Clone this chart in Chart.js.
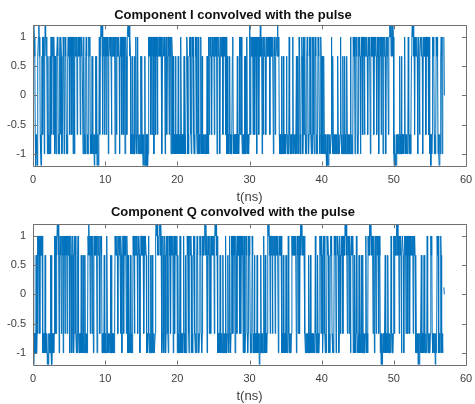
<!DOCTYPE html>
<html>
<head>
<meta charset="utf-8">
<script src="https://cdn.jsdelivr.net/npm/chart.js@4.4.1/dist/chart.umd.min.js"></script>
<style>
  html, body { margin: 0; padding: 0; background: #ffffff; overflow: hidden; }
  #wrap { position: relative; width: 475px; height: 404px; }
  canvas { position: absolute; left: 0; }
  #chartI { top: 0; }
  #chartQ { top: 199px; }
</style>
</head>
<body>
<div id="wrap">
  <canvas id="chartI" width="475" height="206"></canvas>
  <canvas id="chartQ" width="475" height="206"></canvas>
</div>
<script>
// Sampling interval of the shaped baseband signals (ns per sample).
const TIME_STEP_NS = 0.0625;

// Amplitude for each sample code.
// P/p : upper symbol level and its ripple, N/n : lower level and its ripple,
// U/D : overshoots past the plotted range, z/0 : tail samples, x : gap.
const LEVELS = { P: 1, p: 0.67, n: -0.67, N: -1, U: 1.3, D: -1.3, z: 0.12, '0': 0, x: null };

// In-phase component, ten samples per entry.
const I_SAMPLES = [
  "PpUPpnDNnN", "DpPUpPnNDN", "pPnPpNpUPp", "PpNpNnNnpN", "PnPpPnPpNp",
  "nNnpPpNnNp", "PnPpNnnPpN", "nPpPNnNpPp", "PpnPpPnPpN", "PpNPpPpPnp",
  "PpPpPnPpPp", "pNPpNnNpPp", "NnNnPpPnNn", "NpNnNnDnNp", "NpDNnDnPnp",
  "PUPUnPpPnP", "pPnPpPpNpP", "PpPpnPpPpP", "pPNpPnPpPp", "PpNpPpPnPp",
  "PnPpNpPpnP", "PUPUpPpNnN", "NpNnNpNnPn", "NnPnNnNnNp", "NpNnDnNDpD",
  "NnDnDNPpPp", "PnPpnPpPNP", "pPnPpPnPpP", "PpPpPpNpPp", "pPpNpPpnpP",
  "PpnPpPNpPp", "NpNnNnpNnN", "nNpNnNnNPn", "NnNnNpNnNn", "pPpNnNpPpP",
  "nNnPpPnNnN", "PpPnNnPpNn", "NnPnNpNnNn", "NnNnnNpNnN", "PnPpPpnPpP",
  "pPnPpPpPNp", "PpPpNpPpPp", "PnPpPpPnPp", "NpNnNnpNnN", "nNpPnNnNnN",
  "NnNpNnNnPn", "PpPnNnNnNp", "NpNnPnNnNn", "PUnPpPpPnP", "pPnPpPNpPp",
  "PnPpUpPpNp", "PnPpPpnpPp", "PpPpPnPpPp", "pPpNpPpnpP", "PpUPpPnNnN",
  "NpNnNpNnNn", "NnpnNnNnPn", "NnNnNnPnNn", "nNnNpNnpnN", "PpNnNpPpNn",
  "PnPpNnNpPp", "nNnPpPnNnN", "PpPnNpPpNn", "NnPpPnNnPp", "NpNnNpNnNn",
  "NDnDNDnNnN", "NnPnNpNnNn", "NnNnNnpNnN", "NnPnNnNpNn", "NpNnNnpNnN",
  "nNnNPnNnNn", "PpPpNnPpPn", "NnPpPpNnPp", "PnPpPnPpPp", "PpnpPpPpNp",
  "PpPpPpnPpP", "PpnPpPpNpP", "pPnPpPNpPp", "PpNpPpPpnP", "PUPUpPUpUP",
  "NDnDNDnNnN", "NnNpNnNpNn", "NnNnPnNnNn", "NnPnNnNnNp", "PUPUpPnPpP",
  "pPpNpPpnpP", "PpPpNpPpPp", "PnPpPpPnPp", "NnDnNnPpPp", "NnNnPpPpNn",
  "NDnNpPpNnP", "xP0"
];

// Quadrature component, ten samples per entry.
const Q_SAMPLES = [
  "NpDnNnNpNn", "PnPpPnPpPp", "PpNnNnNpNn", "NnDNDnNnNp", "NpDnNnNnPn",
  "PnPpUPUpNp", "PpPnPpPNPp", "PnPpPpnPpP", "PpNpPpNnPp", "NnPpPnNnNp",
  "PnNnNnNpNn", "NpNnNpNnNn", "NnPpUpPnPp", "PnPpNpPpPp", "PpNpPpPpnP",
  "PpPNnNnNpN", "NnNnPnNnNn", "nNpNpNnNnN", "NnPpPpPpnP", "PpPpnPpNpP",
  "PnPpPpPnPp", "NpNnNnpNnN", "NnPpPnPpPp", "PpnPpPpNpP", "PpPpPpnPpP",
  "PpNnNnPnNn", "NpNnpNnNnN", "NnPUPUpPpP", "PUpUPnNnPp", "NnPpNnPpPn",
  "NnPpPnPpPp", "PNpPnPpPpP", "NpNnNnPnNn", "NnNnPnNnpN", "NnPpPnNnPp",
  "PpNnNpPpPn", "NnNpPpNnNn", "PpPnNnPpPp", "PUpUPpNpPp", "PnPpnPpPpP",
  "pPnPUPUpPp", "NnNnNpNnNn", "NpNnNnNPNn", "NnpnNnPnNn", "PpPnPpPpNp",
  "PpnPpPpPnP", "PnPpPpNpPp", "NnPpPnNnPp", "PpNnNnPpNn", "NpNnNnNpNn",
  "NnDnNpNnNn", "NnPnNpNnNn", "PUPUpPnPpP", "PnPpPpPnPp", "PpPpNpPpPp",
  "PpNnNpNnNn", "NpNnNnPnNn", "NnNnPpPpPp", "PpPpNpPpnP", "PnPUpUPpPp",
  "PpPnNnNnNn", "NpNnNpNnNn", "NnNnNnPnNn", "NpNnNnPpPn", "PpNnPpPnNn",
  "NnPpPpNnNp", "PpPnNnNnPp", "PpNnPpPpNn", "PpnpPpPnPp", "PpUPUpPnPp",
  "PnPpNpPpPp", "NnpNnNnPnN", "NnNpNnNnpN", "NpNnNnNnPn", "NnNPpPUpUP",
  "PpPpnPpNpP", "PnPpPpPnPp", "NnDnDNnNnN", "NpNnNnNpNn", "NnNnPnNnNn",
  "PnPpPpUPUp", "PpnPpPpNpP", "PpNpPpPnPp", "PnPpPnPpPp", "PpPnPpPpNp",
  "NnNnDnDNnN", "NpNnNnNpNn", "NnNnPnNnNn", "NnPpPnNnNn", "NnDnNnPpPp",
  "NnNnPpNnNn", "xz0"
];

const X_TICKS = [0, 10, 20, 30, 40, 50, 60];
const Y_TICKS = [-1, -0.5, 0, 0.5, 1];
const X_RANGE = [0, 60];
const Y_RANGE = [-1.2, 1.2];
const X_LABEL = 't(ns)';

const FONT = '"Liberation Sans", Arial, Helvetica, sans-serif';
const LINE_COLOR = '#0072BD';
const AXIS_COLOR = '#707070';
const TEXT_COLOR = '#404040';

function toPoints(pieces) {
  return pieces.join('').split('').map((c, i) => ({ x: i * TIME_STEP_NS, y: LEVELS[c] }));
}

// Box around the axes with inward tick marks on all four sides.
const axesBox = {
  id: 'axesBox',
  afterDraw(chart) {
    const { ctx, chartArea: a, scales } = chart;
    const len = 4;
    ctx.save();
    ctx.strokeStyle = AXIS_COLOR;
    ctx.lineWidth = 1;
    ctx.beginPath();
    ctx.rect(Math.round(a.left) + 0.5, Math.round(a.top) + 0.5,
             Math.round(a.right) - Math.round(a.left), Math.round(a.bottom) - Math.round(a.top));
    scales.x.ticks.forEach(t => {
      const px = Math.round(scales.x.getPixelForValue(t.value)) + 0.5;
      ctx.moveTo(px, a.bottom); ctx.lineTo(px, a.bottom - len);
      ctx.moveTo(px, a.top); ctx.lineTo(px, a.top + len);
    });
    scales.y.ticks.forEach(t => {
      const py = Math.round(scales.y.getPixelForValue(t.value)) + 0.5;
      ctx.moveTo(a.left, py); ctx.lineTo(a.left + len, py);
      ctx.moveTo(a.right, py); ctx.lineTo(a.right - len, py);
    });
    ctx.stroke();
    ctx.restore();
  }
};

function makeChart(id, title, pieces, titlePad) {
  return new Chart(document.getElementById(id), {
    type: 'line',
    data: {
      datasets: [{
        data: toPoints(pieces),
        borderColor: LINE_COLOR,
        borderWidth: 1,
        pointRadius: 0,
        tension: 0,
        spanGaps: false,
        fill: false,
        borderJoinStyle: 'round'
      }]
    },
    options: {
      responsive: false,
      animation: false,
      devicePixelRatio: 1,
      layout: { padding: { left: 0, right: 9, top: 0, bottom: 0 } },
      plugins: {
        legend: { display: false },
        tooltip: { enabled: false },
        title: {
          display: true,
          text: title,
          color: '#111111',
          font: { family: FONT, size: 13, weight: 'bold', lineHeight: 1.2 },
          padding: titlePad
        }
      },
      scales: {
        x: {
          type: 'linear',
          min: X_RANGE[0],
          max: X_RANGE[1],
          afterBuildTicks: s => { s.ticks = X_TICKS.map(v => ({ value: v })); },
          afterFit: s => { s.height = 40.5; s.paddingLeft = 0; s.paddingRight = 0; },
          grid: { display: false, drawTicks: false },
          border: { display: false },
          ticks: {
            padding: 7.9,
            color: TEXT_COLOR,
            font: { family: FONT, size: 11 },
            maxRotation: 0,
            callback: v => String(v)
          },
          title: {
            display: true,
            text: X_LABEL,
            color: TEXT_COLOR,
            font: { family: FONT, size: 13, lineHeight: 1.2 },
            padding: { top: 0, bottom: 0.7 }
          }
        },
        y: {
          type: 'linear',
          min: Y_RANGE[0],
          max: Y_RANGE[1],
          afterBuildTicks: s => { s.ticks = Y_TICKS.map(v => ({ value: v })); },
          afterFit: s => { s.width = 33; },
          grid: { display: false, drawTicks: false },
          border: { display: false },
          ticks: {
            padding: 7,
            color: TEXT_COLOR,
            font: { family: FONT, size: 11 },
            callback: v => String(v)
          }
        }
      }
    },
    plugins: [axesBox]
  });
}

makeChart('chartI', 'Component I convolved with the pulse', I_SAMPLES, { top: 7.7, bottom: 2.0 });
makeChart('chartQ', 'Component Q convolved with the pulse', Q_SAMPLES, { top: 5.9, bottom: 3.8 });
</script>
</body>
</html>
